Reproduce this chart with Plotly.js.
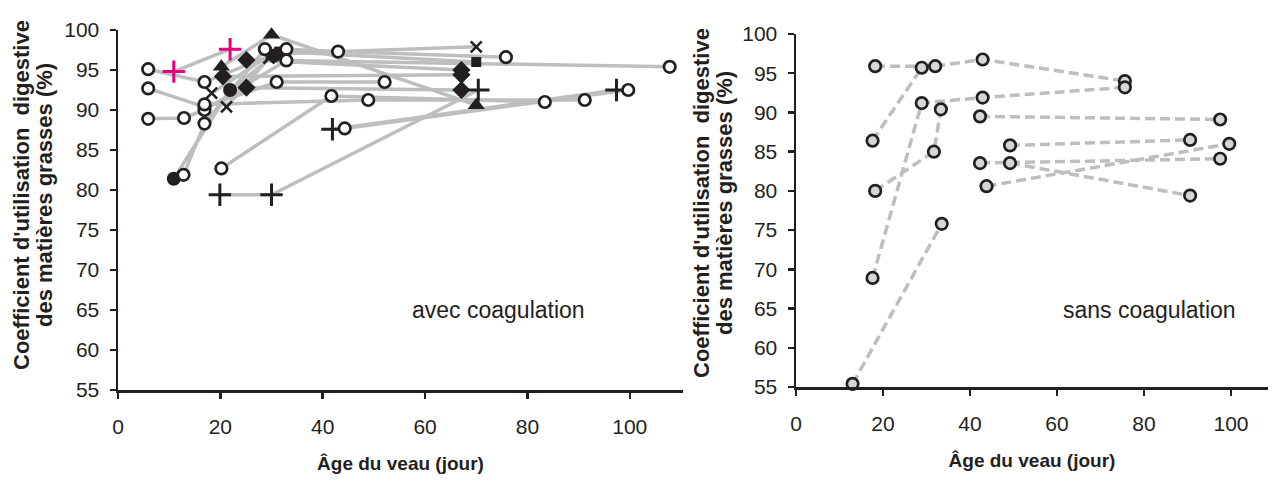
<!DOCTYPE html>
<html>
<head>
<meta charset="utf-8">
<script src="https://cdn.plot.ly/plotly-3.0.1.min.js"></script>
<style>html,body{margin:0;padding:0;background:#fff;}#chart{width:1272px;height:482px;}</style>
</head>
<body>
<div id="chart"></div>
<script>
// ---------- Data: left panel (avec coagulation) ----------
const leftCircle1X = [5.9, 16.9, 32.9, 43.0, 75.8];
const leftCircle1Y = [95.1, 93.5, 97.6, 97.3, 96.6];
const leftCircle2X = [5.9, 16.9, 31.0, 52.1];
const leftCircle2Y = [92.7, 90.4, 93.5, 93.5];
const leftCircle3X = [5.9, 12.9, 16.9, 32.9, 107.8];
const leftCircle3Y = [88.9, 89.0, 90.0, 96.2, 95.4];
const leftCircle4X = [12.8, 16.9, 28.7];
const leftCircle4Y = [81.9, 88.3, 97.6];
const leftCircle5X = [20.2, 41.7, 83.4];
const leftCircle5Y = [82.7, 91.75, 91.0];
const leftCircle6X = [16.9, 48.9, 91.2];
const leftCircle6Y = [90.7, 91.25, 91.25];
const leftCircle7X = [44.3, 99.7];
const leftCircle7Y = [87.7, 92.5];
const leftDotX = [10.9, 21.9, 30.5];
const leftDotY = [81.4, 92.5, 96.8];
const leftTriX = [20.2, 30.0, 70.0];
const leftTriY = [95.4, 99.4, 90.6];
const leftDiam1X = [25.1, 67.1];
const leftDiam1Y = [96.25, 95.0];
const leftDiam2X = [25.1, 67.1];
const leftDiam2Y = [92.8, 92.5];
const leftDiam3X = [20.5, 67.1];
const leftDiam3Y = [94.2, 94.4];
const leftSquareX = [31.5, 70.0];
const leftSquareY = [97.3, 96.0];
const leftCross1X = [18.3, 30.0, 70.0];
const leftCross1Y = [92.1, 97.0, 97.9];
const leftCross2X = [21.2, 29.5];
const leftCross2Y = [90.4, 96.5];
const leftPlus1X = [19.9, 30.0, 70.4];
const leftPlus1Y = [79.4, 79.4, 92.5];
const leftPlus2X = [41.9, 97.4];
const leftPlus2Y = [87.6, 92.5];
const leftPinkX = [10.9, 21.9];
const leftPinkY = [94.8, 97.6];

// ---------- Data: right panel (sans coagulation) ----------
const right1X = [18.2, 32.0, 42.9, 75.6];
const right1Y = [95.9, 95.9, 96.75, 94.0];
const right2X = [17.6, 28.9];
const right2Y = [86.4, 95.7];
const right3X = [17.6, 28.9, 42.9, 75.6];
const right3Y = [68.9, 91.2, 91.9, 93.2];
const right4X = [18.2, 31.7, 33.3];
const right4Y = [80.0, 85.0, 90.4];
const right5X = [13.0, 33.5];
const right5Y = [55.4, 75.8];
const right6X = [42.3, 97.5];
const right6Y = [89.5, 89.1];
const right7X = [49.2, 90.6];
const right7Y = [85.8, 86.5];
const right8X = [42.3, 97.5];
const right8Y = [83.55, 84.1];
const right9X = [49.2, 90.6];
const right9Y = [83.55, 79.4];
const right10X = [43.8, 99.6];
const right10Y = [80.6, 86.0];
const right11X = [12.8];
const right11Y = [54.9];

// ---------- Tick labels / text ----------
const yTicks = [55, 60, 65, 70, 75, 80, 85, 90, 95, 100];
const xTicks = [0, 20, 40, 60, 80, 100];
const yTitleLine1 = "Coefficient d'utilisation  digestive";
const yTitleLine2 = "des matières grasses (%)";
const xTitle = "Âge du veau (jour)";
const panelLabels = ['avec coagulation', 'sans coagulation'];

// ---------- Styles ----------
const INK = '#231f20';
const GRAY = '#bcbec0';
const FONT = 'Liberation Sans, Arial, sans-serif';

const leftSeries = [
  {x: leftCircle1X, y: leftCircle1Y, m: 'circle-open'},
  {x: leftCircle2X, y: leftCircle2Y, m: 'circle-open'},
  {x: leftCircle3X, y: leftCircle3Y, m: 'circle-open'},
  {x: leftCircle4X, y: leftCircle4Y, m: 'circle-open'},
  {x: leftCircle5X, y: leftCircle5Y, m: 'circle-open'},
  {x: leftCircle6X, y: leftCircle6Y, m: 'circle-open'},
  {x: leftCircle7X, y: leftCircle7Y, m: 'circle-open'},
  {x: leftDotX, y: leftDotY, m: 'circle'},
  {x: leftTriX, y: leftTriY, m: 'triangle-up'},
  {x: leftDiam1X, y: leftDiam1Y, m: 'diamond'},
  {x: leftDiam2X, y: leftDiam2Y, m: 'diamond'},
  {x: leftDiam3X, y: leftDiam3Y, m: 'diamond'},
  {x: leftSquareX, y: leftSquareY, m: 'square'},
  {x: leftCross1X, y: leftCross1Y, m: 'x-thin'},
  {x: leftCross2X, y: leftCross2Y, m: 'x-thin'},
  {x: leftPlus1X, y: leftPlus1Y, m: 'cross-thin'},
  {x: leftPlus2X, y: leftPlus2Y, m: 'cross-thin'},
  {x: leftPinkX, y: leftPinkY, m: 'cross-thin', c: '#e5007d'}
];
const rightSeries = [
  [right1X, right1Y], [right2X, right2Y], [right3X, right3Y], [right4X, right4Y],
  [right5X, right5Y], [right6X, right6Y], [right7X, right7Y], [right8X, right8Y],
  [right9X, right9Y], [right10X, right10Y], [right11X, right11Y]
];

function markerStyle(sym, color) {
  const c = color || INK;
  if (sym === 'circle-open') return {symbol: 'circle', size: 11.5, color: '#ffffff', line: {color: c, width: 2.7}};
  if (sym === 'circle') return {symbol: 'circle', size: 14, color: c, line: {width: 0}};
  if (sym === 'triangle-up') return {symbol: 'triangle-up', size: 15, color: c, line: {width: 0}};
  if (sym === 'diamond') return {symbol: 'diamond', size: 14, color: c, line: {width: 0}};
  if (sym === 'square') return {symbol: 'square', size: 10, color: c, line: {width: 0}};
  if (sym === 'x-thin') return {symbol: 'x-thin', size: 11, color: c, line: {color: c, width: 2.6}};
  return {symbol: 'cross-thin', size: 16, color: c, line: {color: c, width: 3}};
}

const traces = [];
leftSeries.forEach(s => traces.push({x: s.x, y: s.y, xaxis: 'x', yaxis: 'y', mode: 'lines',
  line: {color: GRAY, width: 3.5}, hoverinfo: 'skip', showlegend: false, cliponaxis: false}));
const order = leftSeries.slice().sort((a, b) => (a.m === 'circle-open') - (b.m === 'circle-open'));
order.forEach(s => traces.push({x: s.x, y: s.y, xaxis: 'x', yaxis: 'y', mode: 'markers',
  marker: markerStyle(s.m, s.c), showlegend: false, cliponaxis: false}));
rightSeries.forEach(s => traces.push({x: s[0], y: s[1], xaxis: 'x2', yaxis: 'y2', mode: 'lines',
  line: {color: GRAY, width: 3.5, dash: '10px,5px'}, hoverinfo: 'skip', showlegend: false, cliponaxis: false}));
rightSeries.forEach(s => traces.push({x: s[0], y: s[1], xaxis: 'x2', yaxis: 'y2', mode: 'markers',
  marker: {symbol: 'circle', size: 11.5, color: '#d6d6d6', line: {color: INK, width: 2.7}}, showlegend: false, cliponaxis: false}));

const tickFont = {family: FONT, size: 21, color: INK};
const titleFont = {family: FONT, size: 19, color: INK, weight: 'bold'};
function xAx(domain, range, anchor) {
  return {domain: domain, range: range, anchor: anchor, tickvals: xTicks, ticktext: xTicks.map(String),
    showline: true, linecolor: INK, linewidth: 2.5, ticks: 'outside', ticklen: 6, tickwidth: 2.5, tickcolor: INK,
    showgrid: false, zeroline: false, tickfont: tickFont, ticklabelstandoff: 10,
    title: {text: xTitle, font: titleFont, standoff: 20}};
}
function yAx(domain, anchor) {
  return {domain: domain, range: [55, 100], anchor: anchor, tickvals: yTicks, ticktext: yTicks.map(String),
    showline: true, linecolor: INK, linewidth: 2.5, ticks: 'outside', ticklen: 6, tickwidth: 2.5, tickcolor: INK,
    showgrid: false, zeroline: false, tickfont: tickFont, ticklabelstandoff: 6};
}

const yTitleFont = {family: FONT, size: 22, color: INK, weight: 'bold'};
function yTitleAnn(text, xpx, ypx) {
  return {text: text, xref: 'paper', yref: 'paper', x: xpx / 1272, y: 1 - ypx / 482,
    xanchor: 'center', yanchor: 'middle', textangle: -90, showarrow: false, font: yTitleFont};
}

const layout = {
  width: 1272, height: 482,
  margin: {l: 0, r: 0, t: 0, b: 0},
  paper_bgcolor: '#ffffff', plot_bgcolor: '#ffffff',
  showlegend: false,
  xaxis: xAx([118/1272, 683/1272], [0, 110.4], 'y'),
  yaxis: yAx([92/482, 452/482], 'x'),
  xaxis2: xAx([796/1272, 1268/1272], [0, 108.5], 'y2'),
  yaxis2: yAx([95/482, 448/482], 'x2'),
  annotations: [
    yTitleAnn(yTitleLine1, 21, 195),
    yTitleAnn(yTitleLine2, 44, 195),
    yTitleAnn(yTitleLine1, 701, 203),
    yTitleAnn(yTitleLine2, 724, 203),
    {text: panelLabels[0], xref: 'x', yref: 'y', x: 74.4, y: 65, showarrow: false,
      font: {family: FONT, size: 23, color: INK}},
    {text: panelLabels[1], xref: 'x2', yref: 'y2', x: 81.2, y: 64.8, showarrow: false,
      font: {family: FONT, size: 23, color: INK}}
  ]
};

Plotly.newPlot('chart', traces, layout, {displayModeBar: false, staticPlot: true});
</script>
</body>
</html>
